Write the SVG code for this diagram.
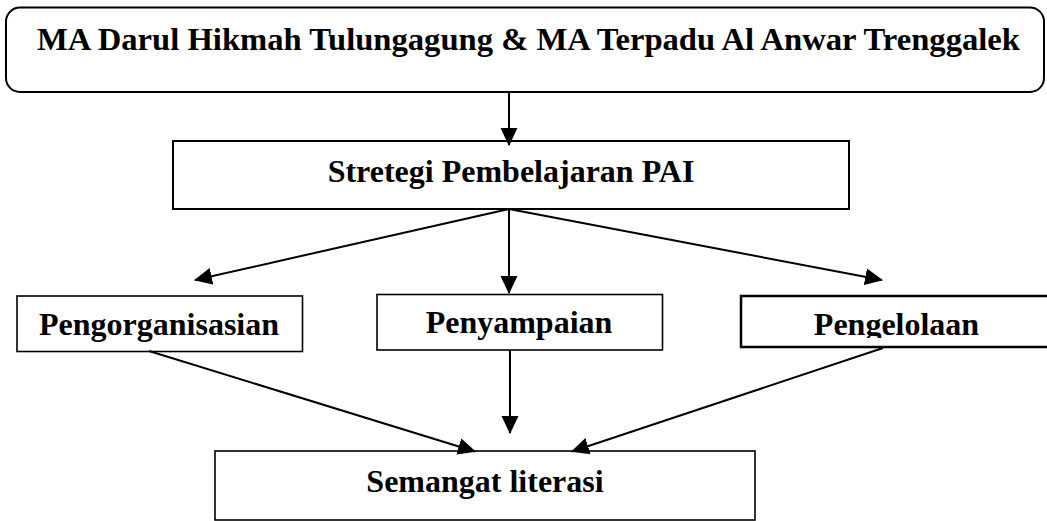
<svg xmlns="http://www.w3.org/2000/svg" width="1047" height="521" viewBox="0 0 1047 521">
<style>
.box{fill:#fff;stroke:#000;stroke-width:2}
.thin{stroke-width:1.6}
.lbl{font-family:"Liberation Serif","Times New Roman",serif;font-weight:bold;font-size:32px;fill:#000}
.con{stroke:#000;stroke-width:2;fill:none}
</style>
<defs>
<marker id="ah" markerUnits="userSpaceOnUse" markerWidth="18" markerHeight="18" viewBox="0 0 17 16" refX="16" refY="8" orient="auto">
<path d="M0,0 L17,8 L0,16 z" fill="#000"/>
</marker>
<clipPath id="clipPeng"><rect x="741" y="296" width="310" height="42"/></clipPath>
</defs>
<rect width="1047" height="521" fill="#fff"/>
<g id="node-top">
<rect class="box" x="6" y="7.5" width="1038" height="84.5" rx="14" ry="14"/>
<text class="lbl" x="37" y="50" textLength="983" lengthAdjust="spacingAndGlyphs">MA Darul Hikmah Tulungagung &amp; MA Terpadu Al Anwar Trenggalek</text>
</g>
<g id="node-strategi">
<rect class="box" x="173" y="141" width="676" height="68"/>
<text class="lbl" x="511" y="182" text-anchor="middle">Stretegi Pembelajaran PAI</text>
</g>
<g id="node-pengorganisasian">
<rect class="box thin" x="17" y="296" width="285.5" height="55.5"/>
<text class="lbl" x="159" y="335" text-anchor="middle">Pengorganisasian</text>
</g>
<g id="node-penyampaian">
<rect class="box thin" x="377" y="294.5" width="285.5" height="55.5"/>
<text class="lbl" x="519" y="333" text-anchor="middle">Penyampaian</text>
</g>
<g id="node-pengelolaan">
<rect class="box" style="stroke-width:2.5" x="741" y="296" width="312" height="51"/>
<text class="lbl" x="896.5" y="335" text-anchor="middle" clip-path="url(#clipPeng)">Pengelolaan</text>
</g>
<g id="node-semangat">
<rect class="box thin" x="215" y="451" width="540" height="69"/>
<text class="lbl" x="485" y="492" text-anchor="middle">Semangat literasi</text>
</g>
<g id="connectors">
<line class="con" x1="509" y1="93" x2="509" y2="145" marker-end="url(#ah)"/>
<line class="con" x1="509" y1="209" x2="195" y2="280" marker-end="url(#ah)"/>
<line class="con" x1="509" y1="209" x2="509" y2="293" marker-end="url(#ah)"/>
<line class="con" x1="509" y1="209" x2="882" y2="280" marker-end="url(#ah)"/>
<line class="con" x1="149" y1="351" x2="475" y2="451.5" marker-end="url(#ah)"/>
<line class="con" x1="510" y1="350" x2="510" y2="433" marker-end="url(#ah)"/>
<line class="con" x1="883" y1="348" x2="572" y2="451.5" marker-end="url(#ah)"/>
</g>
</svg>
